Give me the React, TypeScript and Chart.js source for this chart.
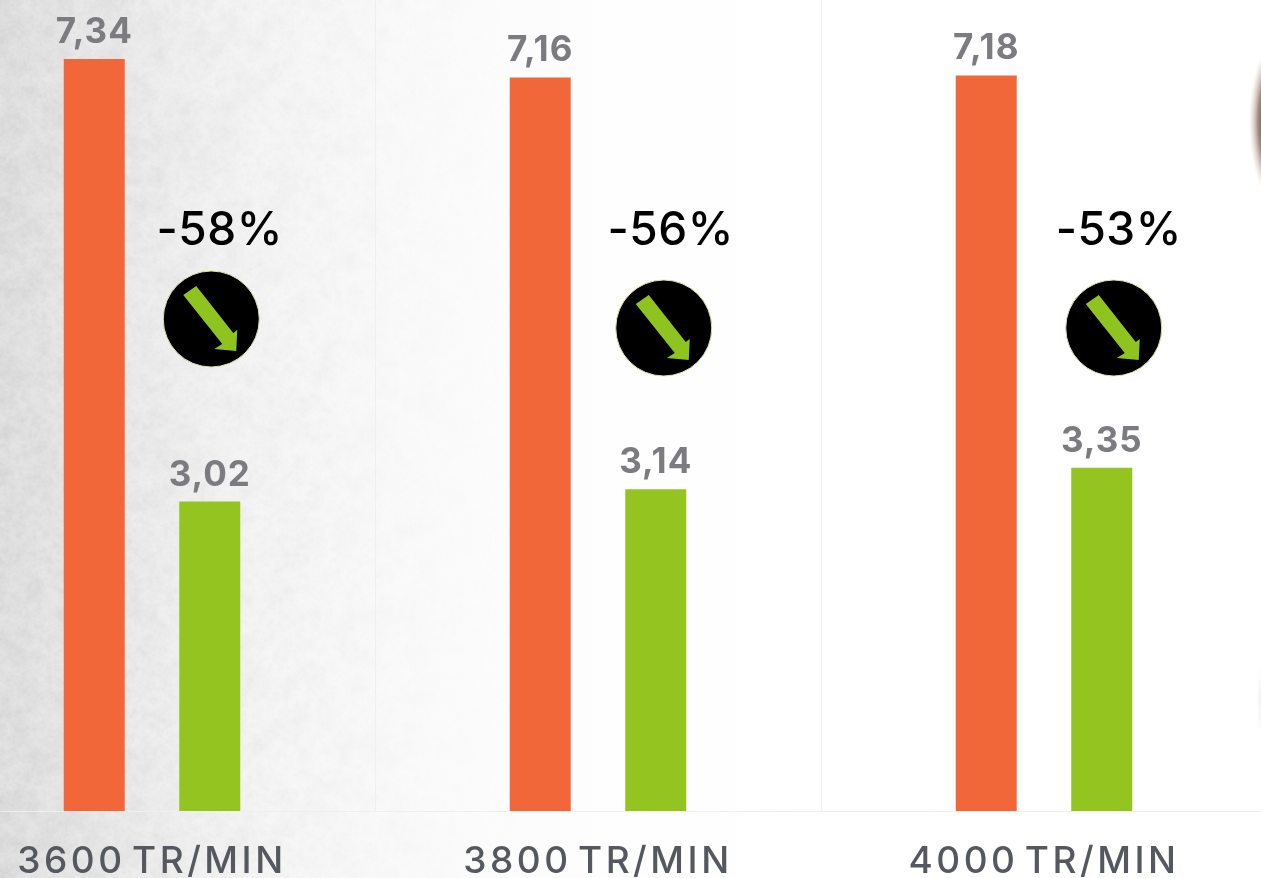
import React, { useEffect, useRef } from "react";
import { Chart, registerables } from "chart.js";

Chart.register(...registerables);

const categories = ["3600 TR/MIN", "3800 TR/MIN", "4000 TR/MIN"];
const orangeValues = [7.34, 7.16, 7.18];
const greenValues = [3.02, 3.14, 3.35];
const dropLabels = ["-58%", "-56%", "-53%"];

const OFFSET_X = 71;
const CANVAS_W = 1338;
const CANVAS_H = 878;
const BASE_Y = 811;
const TEXT_DX = [10, 15, 17];
const ICON_DX = [1.5, 8, 12];
const ICON_Y = [319, 328, 328];
const ARROW: [number, number][] = [[-28, -24], [-15, -33], [22, 14], [26, 11], [25, 32], [3, 30], [11, 25]];

function makeNoise(w: number, h: number, seed: number) {
  const c = document.createElement("canvas");
  c.width = w; c.height = h;
  const g = c.getContext("2d")!;
  const img = g.createImageData(w, h);
  let s = seed;
  for (let i = 0; i < img.data.length; i += 4) {
    s = (s * 1664525 + 1013904223) >>> 0;
    const v = (s >>> 24);
    const d = v > 128 ? 255 : 140;
    img.data[i] = d; img.data[i + 1] = d; img.data[i + 2] = d;
    img.data[i + 3] = Math.abs(v - 128) * 0.35;
  }
  g.putImageData(img, 0, 0);
  return c;
}

const backgroundPlugin = {
  id: "paper",
  beforeDraw(chart: any) {
    const ctx: CanvasRenderingContext2D = chart.ctx;
    ctx.save();
    ctx.translate(OFFSET_X, 0);
    const grad = ctx.createLinearGradient(0, 0, 1261, 0);
    grad.addColorStop(0, "#e0e0e0");
    grad.addColorStop(0.08, "#e9e9e9");
    grad.addColorStop(0.2, "#f5f5f5");
    grad.addColorStop(0.32, "#fafafa");
    grad.addColorStop(0.5, "#fefefe");
    grad.addColorStop(0.65, "#ffffff");
    ctx.fillStyle = grad;
    ctx.fillRect(0, 0, 1261, CANVAS_H);

    // soft mottling, fading out to the right
    const layer = document.createElement("canvas");
    layer.width = 1261; layer.height = CANVAS_H;
    const l = layer.getContext("2d")!;
    l.imageSmoothingEnabled = true;
    l.imageSmoothingQuality = "high";
    l.globalAlpha = 1;
    l.drawImage(makeNoise(90, 62, 7), 0, 0, 1261, CANVAS_H);
    l.globalAlpha = 0.8;
    l.drawImage(makeNoise(240, 170, 11), 0, 0, 1261, CANVAS_H);
    l.globalAlpha = 0.7;
    l.drawImage(makeNoise(600, 420, 23), 0, 0, 1261, CANVAS_H);
    l.globalAlpha = 1;
    l.globalCompositeOperation = "destination-in";
    const m = l.createLinearGradient(0, 0, 520, 0);
    m.addColorStop(0, "rgba(0,0,0,0.5)");
    m.addColorStop(0.55, "rgba(0,0,0,0.25)");
    m.addColorStop(1, "rgba(0,0,0,0)");
    l.fillStyle = m;
    l.fillRect(0, 0, 1261, CANVAS_H);
    ctx.drawImage(layer, 0, 0);

    // edge of the round shape cut off on the right
    ctx.save();
    ctx.translate(1282, 122);
    ctx.scale(1, 2.6);
    let r = ctx.createRadialGradient(0, 0, 16, 0, 0, 34);
    r.addColorStop(0, "rgba(70,55,50,1)");
    r.addColorStop(0.45, "rgba(130,105,95,0.75)");
    r.addColorStop(0.8, "rgba(205,185,175,0.3)");
    r.addColorStop(1, "rgba(255,255,255,0)");
    ctx.fillStyle = r;
    ctx.beginPath(); ctx.arc(0, 0, 34, 0, Math.PI * 2); ctx.fill();
    ctx.restore();
    ctx.save();
    ctx.translate(1268, 700);
    ctx.scale(1, 4);
    r = ctx.createRadialGradient(0, 0, 2, 0, 0, 13);
    r.addColorStop(0, "rgba(190,185,180,0.8)");
    r.addColorStop(1, "rgba(255,255,255,0)");
    ctx.fillStyle = r;
    ctx.beginPath(); ctx.arc(0, 0, 13, 0, Math.PI * 2); ctx.fill();
    ctx.restore();
    ctx.restore();
    (ctx as any).letterSpacing = "3.5px";
    (ctx as any).wordSpacing = "-7px";
  },
};

const labelPlugin = {
  id: "labels",
  afterDatasetsDraw(chart: any) {
    const ctx: CanvasRenderingContext2D = chart.ctx;
    ctx.save();
    (ctx as any).wordSpacing = "0px";
    ctx.textAlign = "center";
    ctx.textBaseline = "alphabetic";
    chart.data.datasets.forEach((ds: any, di: number) => {
      chart.getDatasetMeta(di).data.forEach((bar: any, i: number) => {
        (ctx as any).letterSpacing = "1px";
        ctx.font = "700 35px Inter";
        ctx.fillStyle = "#7c7c80";
        ctx.fillText((ds.data[i] as number).toFixed(2).replace(".", ","), bar.x, bar.y - 16);
      });
    });
    const greens = chart.getDatasetMeta(1).data;
    dropLabels.forEach((label, i) => {
      const gx = greens[i].x;
      (ctx as any).letterSpacing = "0.5px";
      ctx.font = "500 46px Inter";
      ctx.fillStyle = "#000000";
      ctx.fillText(label, gx + TEXT_DX[i], 245);
      (ctx as any).letterSpacing = "0px";
      const cx = gx + ICON_DX[i];
      const cy = ICON_Y[i];
      ctx.beginPath();
      ctx.arc(cx, cy, 48, 0, Math.PI * 2);
      ctx.fillStyle = "#000000";
      ctx.fill();
      ctx.lineWidth = 1;
      ctx.strokeStyle = "#d9e6a8";
      ctx.stroke();
      ctx.beginPath();
      ARROW.forEach(([dx, dy], k) => (k ? ctx.lineTo(cx + dx, cy + dy) : ctx.moveTo(cx + dx, cy + dy)));
      ctx.closePath();
      ctx.fillStyle = "#8fc31f";
      ctx.fill();
    });
    ctx.restore();
  },
};

export default function App() {
  const ref = useRef<HTMLCanvasElement>(null);
  useEffect(() => {
    const chart = new Chart(ref.current!, {
      type: "bar",
      data: {
        labels: categories,
        datasets: [
          { label: "Orange", data: orangeValues, backgroundColor: "#f26739" },
          { label: "Vert", data: greenValues, backgroundColor: "#93c41f" },
        ],
      },
      plugins: [backgroundPlugin, labelPlugin],
      options: {
        responsive: false,
        animation: false,
        layout: { padding: 0 },
        datasets: { bar: { categoryPercentage: 0.518, barPercentage: 0.528 } },
        plugins: { legend: { display: false }, tooltip: { enabled: false }, title: { display: false } },
        scales: {
          x: {
            afterFit(scale: any) { scale.height = CANVAS_H - BASE_Y; },
            grid: { color: "#efefef", lineWidth: 1, drawTicks: false },
            border: { color: "#efefef" },
            ticks: {
              color: "#55585e",
              font: { family: "Inter", size: 37, weight: "500" },
              padding: 29,
              maxRotation: 0,
              autoSkip: false,
            },
          },
          y: { display: false, min: 0, max: BASE_Y / 102.45 },
        },
      } as any,
    });
    return () => chart.destroy();
  }, []);
  return (
    <div style={{ position: "fixed", left: 0, top: 0, width: 1261, height: 878, overflow: "hidden", background: "#fff" }}>
      <canvas ref={ref} width={CANVAS_W} height={CANVAS_H} style={{ position: "absolute", left: -OFFSET_X, top: 0, width: CANVAS_W, height: CANVAS_H }} />
    </div>
  );
}
